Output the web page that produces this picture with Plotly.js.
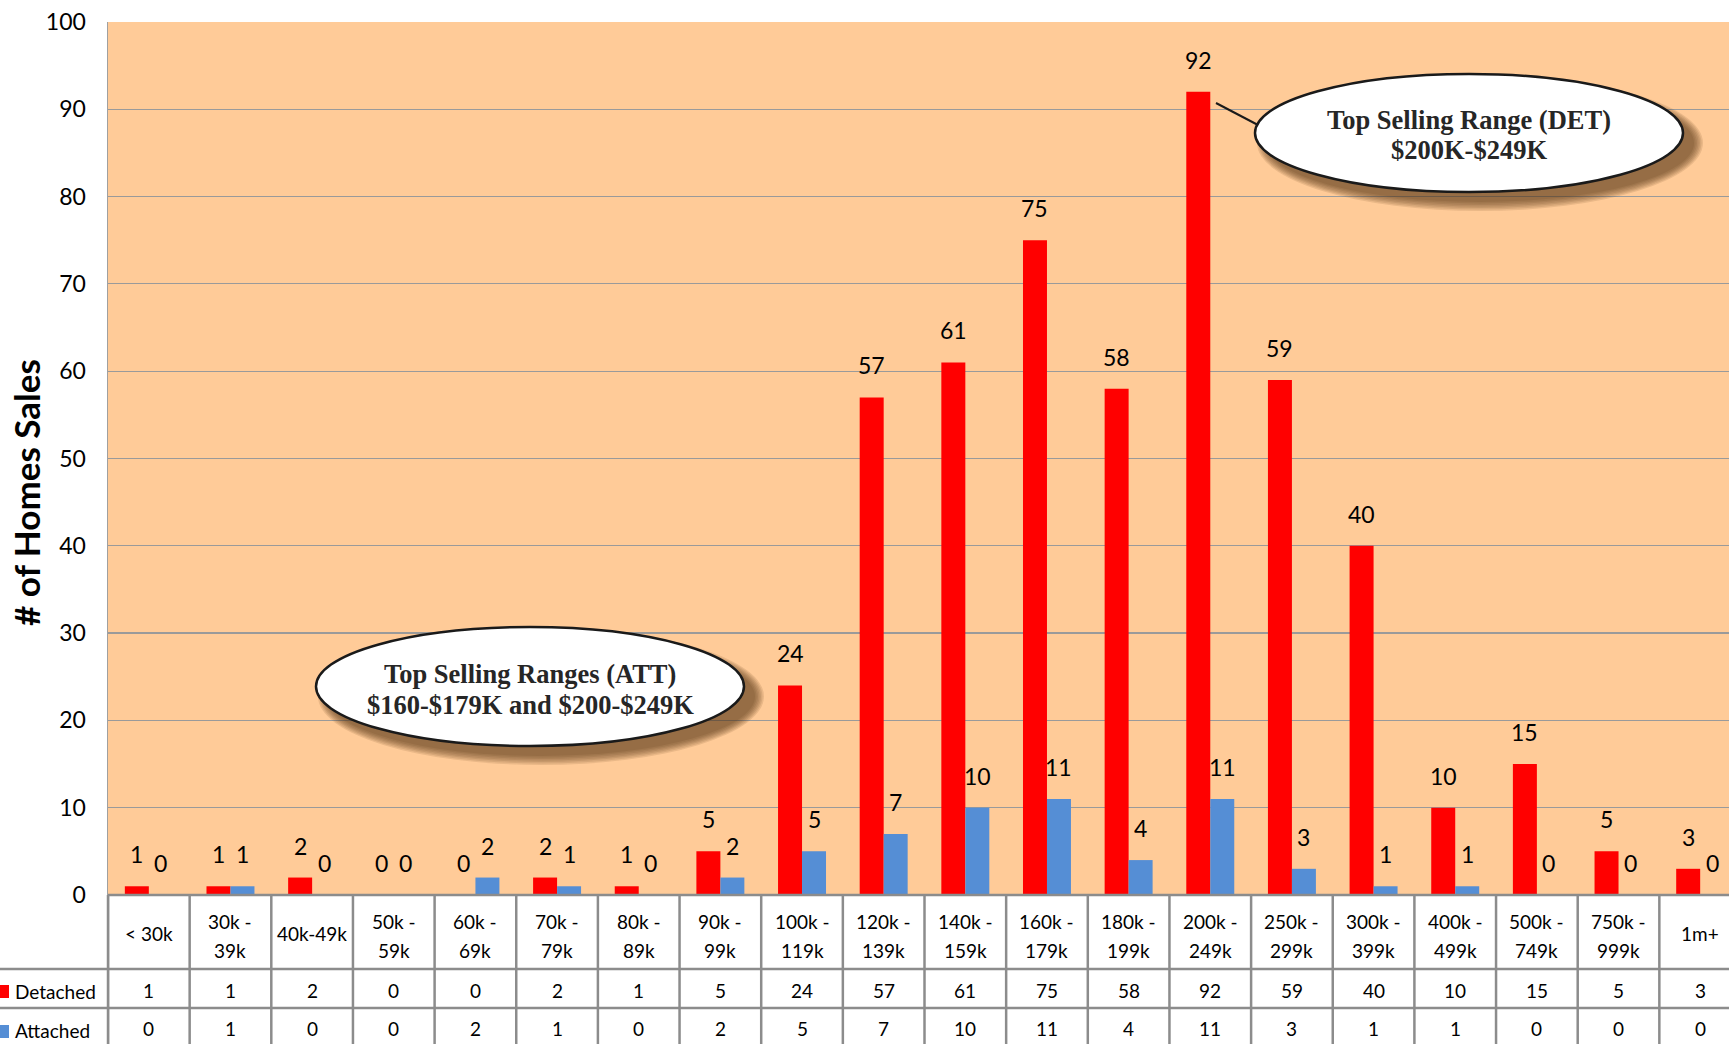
<!DOCTYPE html>
<html><head><meta charset="utf-8">
<script src="https://cdn.plot.ly/plotly-3.0.1.min.js"></script>
<style>html,body{margin:0;padding:0;background:#fff;}#chart{width:1729px;height:1044px;}</style>
</head><body><div id="chart"></div>
<script>
// ---------- data ----------
const categories = ['< 30k','30k - 39k','40k-49k','50k - 59k','60k - 69k','70k - 79k','80k - 89k','90k - 99k','100k - 119k','120k - 139k','140k - 159k','160k - 179k','180k - 199k','200k - 249k','250k - 299k','300k - 399k','400k - 499k','500k - 749k','750k - 999k','1m+'];
const detached = [1,1,2,0,0,2,1,5,24,57,61,75,58,92,59,40,10,15,5,3];
const attached = [0,1,0,0,2,1,0,2,5,7,10,11,4,11,3,1,1,0,0,0];
const seriesNames = ['Detached','Attached'];
const yTickVals = [0,10,20,30,40,50,60,70,80,90,100];
const yTitle = '# of Homes Sales';
const calloutDet = ['Top Selling Range (DET)','$200K-$249K'];
const calloutAtt = ['Top Selling Ranges (ATT)','$160-$179K and $200-$249K'];

// ---------- geometry / style ----------
const W = 1729, H = 1044, ML = 108, MT = 22, MB = 149, MR = 0;
const PW = W - ML - MR, PH = H - MT - MB;
const px = x => (x - ML) / PW;          // pixel -> paper x
const py = y => (H - MB - y) / PH;      // pixel -> paper y
const RED = '#FF0000', BLUE = '#558ED5', BG = '#FFCB98';
const SANS = 'Lato, "Open Sans", sans-serif';
const SERIF = '"Liberation Serif", "Times New Roman", serif';
const LINE = '#8c8c8c';

const esc = s => s.replace(/&/g,'&amp;').replace(/</g,'&lt;').replace(/>/g,'&gt;');
const splitCat = c => { const i = c.indexOf(' - '); return i < 0 ? [c] : [c.slice(0, i + 2), c.slice(i + 3)]; };

const traces = [
  {type:'bar', name:seriesNames[0], x:categories, y:detached, marker:{color:RED}, hoverinfo:'x+y+name'},
  {type:'bar', name:seriesNames[1], x:categories, y:attached, marker:{color:BLUE}, hoverinfo:'x+y+name'}
];

const annotations = [];
const shapes = [];

// data labels
[detached, attached].forEach((arr, s) => {
  arr.forEach((v, i) => {
    annotations.push({x:categories[i], y:v, xref:'x', yref:'y', text:String(v), showarrow:false,
      xshift: s === 0 ? -12 : 12, yshift: 16, yanchor:'bottom', xanchor:'center',
      font:{family:SANS, size:23, color:'#000'}});
  });
});

// table header (category labels) and values
const TF = {family:SANS, size:19, color:'#000'};
categories.forEach((c, i) => {
  const parts = splitCat(c);
  if (parts.length === 1) {
    annotations.push({x:c, y:py(933), xref:'x', yref:'paper', text:esc(parts[0]), showarrow:false, yanchor:'middle', font:TF});
  } else {
    annotations.push({x:c, y:py(922), xref:'x', yref:'paper', text:esc(parts[0]), showarrow:false, yanchor:'middle', font:TF});
    annotations.push({x:c, y:py(950), xref:'x', yref:'paper', text:esc(parts[1]), showarrow:false, yanchor:'middle', font:TF});
  }
  annotations.push({x:c, y:py(990), xref:'x', yref:'paper', text:String(detached[i]), showarrow:false, yanchor:'middle', font:TF});
  annotations.push({x:c, y:py(1028), xref:'x', yref:'paper', text:String(attached[i]), showarrow:false, yanchor:'middle', font:TF});
});

// row labels + keys
annotations.push({x:px(13), y:py(991), xref:'paper', yref:'paper', text:seriesNames[0], showarrow:false,
  xanchor:'left', yanchor:'middle', font:TF});
annotations.push({x:px(13), y:py(1030), xref:'paper', yref:'paper', text:seriesNames[1], showarrow:false,
  xanchor:'left', yanchor:'middle', font:TF});
shapes.push({type:'rect', xref:'paper', yref:'paper', x0:px(0), x1:px(9), y0:py(985), y1:py(998), fillcolor:RED, line:{width:0}});
shapes.push({type:'rect', xref:'paper', yref:'paper', x0:px(0), x1:px(9), y0:py(1025), y1:py(1038), fillcolor:BLUE, line:{width:0}});

// y-axis title (rotated, positioned like the reference)
annotations.push({x:px(26), y:py(493), xref:'paper', yref:'paper', text:'<b>' + esc(yTitle) + '</b>', showarrow:false,
  textangle:-90, xanchor:'center', yanchor:'middle', font:{family:SANS, size:35, color:'#000'}});

// table grid lines
for (let k = 0; k <= categories.length; k++) {
  shapes.push({type:'line', xref:'x', yref:'paper', x0:k - 0.5, x1:k - 0.5, y0:py(895), y1:py(1060),
    line:{color:LINE, width:2.5}, layer:'above'});
}
shapes.push({type:'line', xref:'paper', yref:'paper', x0:px(ML), x1:px(ML), y0:py(895), y1:py(1060), line:{color:LINE, width:2.5}});
[969, 1008].forEach(yy => shapes.push({type:'line', xref:'paper', yref:'paper', x0:px(0), x1:1, y0:py(yy), y1:py(yy), line:{color:LINE, width:2.5}}));
shapes.push({type:'line', xref:'paper', yref:'paper', x0:px(ML), x1:1, y0:py(895), y1:py(895), line:{color:LINE, width:2.5}});

// callouts (ellipses with soft shadow)
function callout(x0, y0, x1, y1, lines, lineYs) {
  for (let s = 6; s >= 0; s--) {
    const g = s * 1.5;
    shapes.push({type:'circle', xref:'paper', yref:'paper', layer:'above',
      x0:px(x0 + 11 - g), x1:px(x1 + 11 + g), y0:py(y1 + 10 + g), y1:py(y0 + 10 - g),
      fillcolor:'rgba(85,50,15,0.12)', line:{width:0}});
  }
  shapes.push({type:'circle', xref:'paper', yref:'paper', layer:'above',
    x0:px(x0), x1:px(x1), y0:py(y1), y1:py(y0), fillcolor:'#FFFFFF', line:{color:'#1a1a1a', width:2.5}});
  lines.forEach((t, j) => annotations.push({x:px((x0 + x1) / 2), y:py(lineYs[j]), xref:'paper', yref:'paper',
    text:'<b>' + esc(t) + '</b>', showarrow:false, xanchor:'center', yanchor:'middle',
    font:{family:SERIF, size:26.5, color:'#262626'}}));
}
shapes.push({type:'line', xref:'paper', yref:'paper', x0:px(1216), y0:py(103), x1:px(1258), y1:py(125), line:{color:'#1a1a1a', width:2}, layer:'above'});
callout(1255, 74, 1683, 192, calloutDet, [120, 150]);
callout(316, 627, 744, 746, calloutAtt, [674, 705]);

const layout = {
  width:W, height:H,
  margin:{l:ML, r:MR, t:MT, b:MB, pad:0},
  paper_bgcolor:'#FFFFFF', plot_bgcolor:BG,
  showlegend:false,
  barmode:'group', bargap:0.4125, bargroupgap:0,
  font:{family:SANS, color:'#000'},
  xaxis:{type:'category', range:[-0.5, categories.length - 0.647], showticklabels:false, showgrid:false,
    zeroline:false, showline:false, fixedrange:true},
  yaxis:{range:[0,100], tickvals:yTickVals, ticktext:yTickVals.map(String), showgrid:true, gridcolor:'#9a9a9a', gridwidth:1.2,
    zeroline:false, showline:true, linecolor:'#a0a0a0', linewidth:1.5, ticks:'', ticklabelstandoff:16,
    tickfont:{family:SANS, size:23, color:'#000'}},
  annotations, shapes
};

Plotly.newPlot('chart', traces, layout, {displayModeBar:false, staticPlot:true});
</script></body></html>
